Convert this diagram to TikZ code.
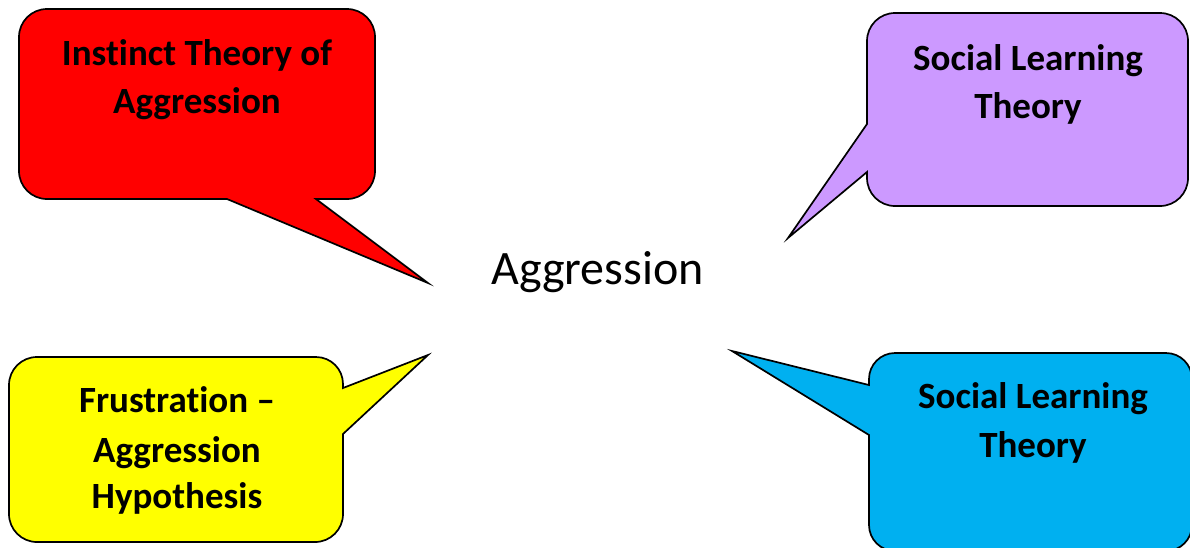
\documentclass[tikz,border=0pt]{standalone}
\usepackage{fontspec}
\setmainfont{Carlito}[Ligatures={NoCommon}]
\definecolor{cred}{HTML}{FF0000}
\definecolor{cpurple}{HTML}{CC99FF}
\definecolor{cyellow}{HTML}{FFFF00}
\definecolor{cblue}{HTML}{00B0F0}
\begin{document}
\begin{tikzpicture}[x=1pt,y=1pt,
  bubble/.style={draw=black,line width=1.7pt,line join=miter},
  boxtext/.style={anchor=base,inner sep=0pt,font=\fontsize{37}{44}\selectfont\bfseries},
  maintext/.style={anchor=base,inner sep=0pt,font=\fontsize{48}{58}\selectfont}]
\useasboundingbox (0,0) rectangle (1190,-547);
% red callout
\path[bubble,fill=cred] (47,-9) -- (347,-9) arc[start angle=90,end angle=0,radius=28]
  -- (375,-171) arc[start angle=0,end angle=-90,radius=28]
  -- (316,-199) -- (428,-283) coordinate (tipR) -- (227,-199) -- (47,-199)
  arc[start angle=270,end angle=180,radius=28] -- (19,-37)
  arc[start angle=180,end angle=90,radius=28] -- cycle;
% purple callout
\path[bubble,fill=cpurple] (895,-13) -- (1160,-13) arc[start angle=90,end angle=0,radius=28]
  -- (1188,-178) arc[start angle=0,end angle=-90,radius=28]
  -- (895,-206) arc[start angle=270,end angle=180,radius=28]
  -- (867,-172) -- (788,-238) coordinate (tipP) -- (867,-124) -- (867,-41)
  arc[start angle=180,end angle=90,radius=28] -- cycle;
% yellow callout
\path[bubble,fill=cyellow] (37,-357) -- (316,-357) arc[start angle=90,end angle=0,radius=27]
  -- (343,-388) -- (428,-355) coordinate (tipY) -- (343,-434) -- (343,-514)
  arc[start angle=0,end angle=-90,radius=28] -- (37,-542)
  arc[start angle=270,end angle=180,radius=28] -- (9,-385)
  arc[start angle=180,end angle=90,radius=28] -- cycle;
% blue callout
\path[bubble,fill=cblue] (895,-353) -- (1166,-353) arc[start angle=90,end angle=0,radius=26]
  -- (1192,-525) arc[start angle=0,end angle=-90,radius=26]
  -- (895,-551) arc[start angle=270,end angle=180,radius=26]
  -- (869,-435) -- (732,-351) coordinate (tipB) -- (869,-385) -- (869,-379)
  arc[start angle=180,end angle=90,radius=26] -- cycle;
% texts
\node[maintext] (center) at (597.5,-284) {Aggression};
\node[boxtext] (r1) at (197,-65) {Instinct Theory of};
\node[boxtext] (r2) at (197,-113) {Aggression};
\node[boxtext] (p1) at (1028,-70) {Social Learning};
\node[boxtext] (p2) at (1028,-118) {Theory};
\node[boxtext] (y1) at (177,-412) {Frustration –};
\node[boxtext] (y2) at (177,-462) {Aggression};
\node[boxtext] (y3) at (177,-508) {Hypothesis};
\node[boxtext] (b1) at (1033,-408) {Social Learning};
\node[boxtext] (b2) at (1033,-457) {Theory};
\end{tikzpicture}
\end{document}
